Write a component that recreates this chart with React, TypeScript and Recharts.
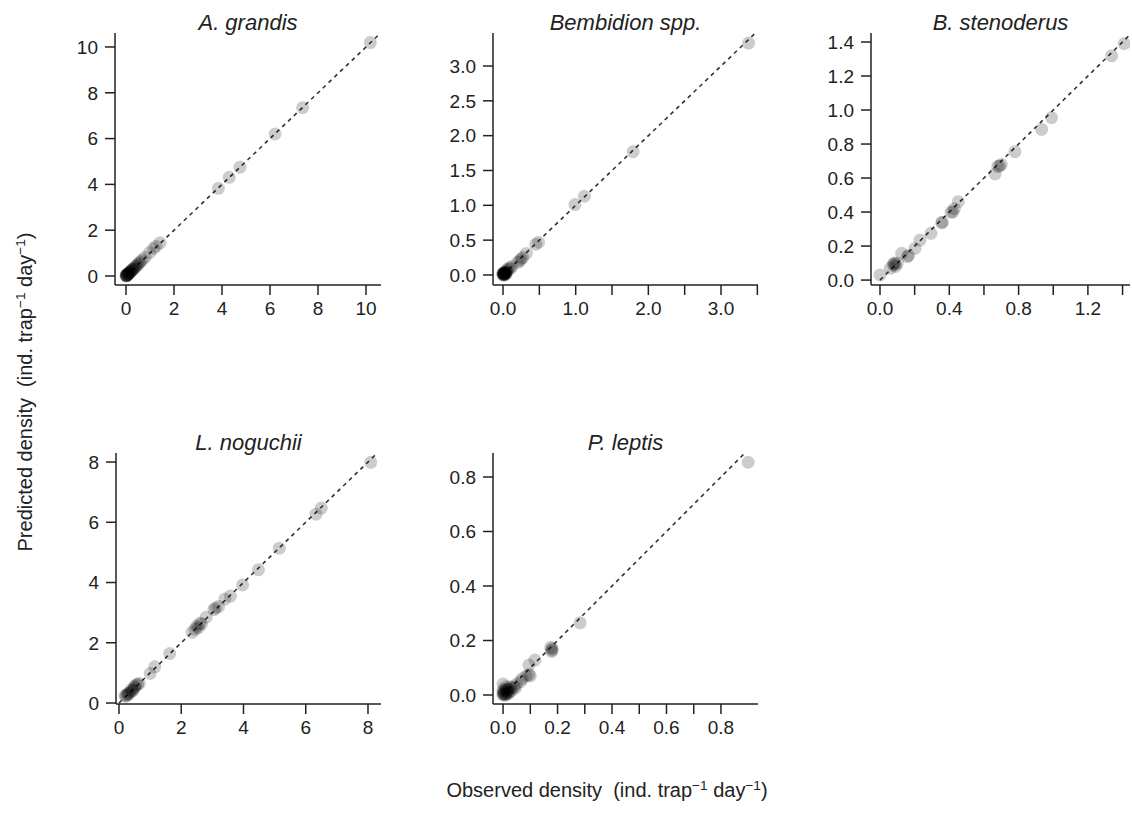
import { ScatterChart, Scatter, XAxis, YAxis, ReferenceLine } from 'recharts';

// observed vs predicted density, one pair of arrays per species
const grandisObs = [10.18, 7.36, 6.21, 4.75, 4.3, 3.85, 1.42, 1.25, 1.15, 0.98, 0.8, 0.68, 0.55, 0.45, 0.38, 0.3, 0.25, 0.2, 0.16, 0.12, 0.09, 0.06, 0.04, 0.02, 0.01, 0.03,
  0.05, 0.08, 0.1, 0.14, 0.18, 0.22, 0.28, 0.33, 0.4, 0.5, 0.6, 0.0, 0.02];
const grandisPred = [10.19, 7.35, 6.2, 4.75, 4.31, 3.83, 1.45, 1.3, 1.2, 1.02, 0.82, 0.7, 0.57, 0.47, 0.36, 0.3, 0.27, 0.2, 0.15, 0.13, 0.08, 0.07, 0.03, 0.02, 0.04, 0.01,
  0.05, 0.1, 0.09, 0.16, 0.17, 0.23, 0.26, 0.34, 0.42, 0.5, 0.62, 0.02, 0.0];

const bembidionObs = [3.38, 1.79, 1.12, 0.99, 0.49, 0.45, 0.32, 0.27, 0.23, 0.12, 0.08, 0.05, 0.03, 0.02, 0.01, 0.0, 0.02, 0.0, 0.01, 0.03, 0.04,
  0.0, 0.01, 0.02, 0.01, 0.03, 0.0, 0.02, 0.04, 0.05, 0.06, 0.1, 0.25, 0.2];
const bembidionPred = [3.33, 1.77, 1.13, 1.01, 0.47, 0.44, 0.31, 0.25, 0.2, 0.12, 0.1, 0.06, 0.02, 0.03, 0.01, 0.0, 0.0, 0.02, 0.02, 0.04, 0.01,
  0.01, 0.0, 0.01, 0.03, 0.03, 0.03, 0.02, 0.03, 0.04, 0.08, 0.09, 0.23, 0.18];

const stenoderusObs = [1.41, 1.337, 0.99, 0.933, 0.779, 0.69, 0.7, 0.664, 0.452, 0.41, 0.43, 0.356, 0.294, 0.231, 0.202, 0.158, 0.165, 0.125, 0.077, 0.085, 0.06, 0.1, 0.0,
  0.08, 0.09, 0.36, 0.42, 0.68];
const stenoderusPred = [1.39, 1.319, 0.955, 0.886, 0.755, 0.67, 0.68, 0.624, 0.461, 0.4, 0.42, 0.337, 0.275, 0.235, 0.186, 0.137, 0.145, 0.157, 0.088, 0.095, 0.07, 0.1, 0.03,
  0.1, 0.08, 0.34, 0.4, 0.67];

const noguchiiObs = [8.09, 6.5, 6.33, 5.15, 4.48, 3.97, 3.58, 3.4, 3.2, 3.05, 2.8, 2.65, 2.55, 2.45, 2.35, 1.63, 1.15, 1.0, 0.65, 0.55, 0.5, 0.42, 0.35, 0.3, 0.25, 0.2,
  0.3, 0.4, 0.45, 0.6, 0.22, 0.5, 2.5, 3.1, 2.6];
const noguchiiPred = [7.99, 6.47, 6.27, 5.14, 4.42, 3.92, 3.55, 3.45, 3.2, 3.1, 2.85, 2.62, 2.5, 2.45, 2.35, 1.64, 1.2, 0.98, 0.65, 0.6, 0.5, 0.4, 0.35, 0.32, 0.27, 0.25,
  0.28, 0.45, 0.42, 0.62, 0.22, 0.55, 2.55, 3.15, 2.65];

const leptisObs = [0.9, 0.283, 0.18, 0.178, 0.175, 0.117, 0.095, 0.095, 0.085, 0.065, 0.05, 0.04, 0.03, 0.02, 0.015, 0.01, 0.005, 0.0, 0.0, 0.0, 0.01, 0.02,
  0.0, 0.005, 0.01, 0.01, 0.02, 0.015, 0.03, 0.0, 0.005, 0.025, 0.045, 0.07, 0.1, 0.18];
const leptisPred = [0.854, 0.265, 0.17, 0.16, 0.175, 0.128, 0.11, 0.075, 0.07, 0.05, 0.04, 0.03, 0.025, 0.02, 0.01, 0.005, 0.0, 0.0, 0.04, 0.02, 0.03, 0.005,
  0.01, 0.005, 0.0, 0.02, 0.01, 0.02, 0.015, 0.005, 0.015, 0.03, 0.025, 0.06, 0.07, 0.165];

// ticks (labels = which ticks get a number)
const grandisTicks = [0, 2, 4, 6, 8, 10];
const bembidionXTicks = [0, 0.5, 1, 1.5, 2, 2.5, 3, 3.5];
const bembidionXLabels = [0, 1, 2, 3];
const bembidionYTicks = [0, 0.5, 1, 1.5, 2, 2.5, 3];
const stenoderusTicks = [0, 0.2, 0.4, 0.6, 0.8, 1, 1.2, 1.4];
const stenoderusXLabels = [0, 0.4, 0.8, 1.2];
const noguchiiTicks = [0, 2, 4, 6, 8];
const leptisXTicks = [0, 0.1, 0.2, 0.3, 0.4, 0.5, 0.6, 0.7, 0.8];
const leptisYTicks = [0, 0.2, 0.4, 0.6, 0.8];

const FONT = '"Liberation Sans", Arial, Helvetica, sans-serif';
const INK = '#222';
const Y_W = 70;
const TOP = 10;
const X_H = 50;

const panels = [
  { title: 'A. grandis', obs: grandisObs, pred: grandisPred, left: 115, top: 33, w: 266, h: 252,
    xDomain: [-0.458, 10.625], yDomain: [-0.393, 10.61], xTicks: grandisTicks, xLabels: grandisTicks, yTicks: grandisTicks, dec: 0 },
  { title: 'Bembidion spp.', obs: bembidionObs, pred: bembidionPred, left: 493, top: 33, w: 265, h: 252,
    xDomain: [-0.138, 3.509], yDomain: [-0.144, 3.474], xTicks: bembidionXTicks, xLabels: bembidionXLabels, yTicks: bembidionYTicks, dec: 1 },
  { title: 'B. stenoderus', obs: stenoderusObs, pred: stenoderusPred, left: 871, top: 33, w: 259, h: 252,
    xDomain: [-0.052, 1.443], yDomain: [-0.029, 1.453], xTicks: stenoderusTicks, xLabels: stenoderusXLabels, yTicks: stenoderusTicks, dec: 1 },
  { title: 'L. noguchii', obs: noguchiiObs, pred: noguchiiPred, left: 116, top: 453, w: 265, h: 251,
    xDomain: [-0.096, 8.418], yDomain: [-0.033, 8.3], xTicks: noguchiiTicks, xLabels: noguchiiTicks, yTicks: noguchiiTicks, dec: 0 },
  { title: 'P. leptis', obs: leptisObs, pred: leptisPred, left: 493, top: 453, w: 265, h: 251,
    xDomain: [-0.037, 0.936], yDomain: [-0.033, 0.888], xTicks: leptisXTicks, xLabels: leptisYTicks, yTicks: leptisYTicks, dec: 1 },
];

const fmt = (labels: number[], dec: number) => (v: number) =>
  labels.some(l => Math.abs(l - v) < 1e-9) ? v.toFixed(dec) : '';

const tickStyle = { fontSize: 19, fill: INK, fontFamily: FONT };

function Dot(props: any) {
  return <circle cx={props.cx} cy={props.cy} r={6.5} fill="#000" fillOpacity={0.2} />;
}

function Panel({ p }: { p: typeof panels[number] }) {
  const data = p.obs.map((x, i) => ({ x, y: p.pred[i] }));
  const hi = Math.max(p.xDomain[1], p.yDomain[1]);
  return (
    <>
      <div style={{
        position: 'absolute', left: p.left, top: p.top - 21, width: p.w, textAlign: 'center',
        fontFamily: FONT, fontStyle: 'italic', fontSize: 22, lineHeight: '22px', color: INK,
      }}>{p.title}</div>
      <div style={{ position: 'absolute', left: p.left - Y_W, top: p.top - TOP }}>
        <ScatterChart width={Y_W + p.w + 10} height={TOP + p.h + X_H} margin={{ top: TOP, right: 10, bottom: 0, left: 0 }}>
          <XAxis type="number" dataKey="x" domain={p.xDomain} allowDataOverflow ticks={p.xTicks} interval={0}
            tickFormatter={fmt(p.xLabels, p.dec)} height={X_H} tick={tickStyle} tickSize={10} tickMargin={7}
            axisLine={{ stroke: INK, strokeWidth: 1.5 }} tickLine={{ stroke: INK, strokeWidth: 1.5 }} />
          <YAxis type="number" dataKey="y" domain={p.yDomain} allowDataOverflow ticks={p.yTicks} interval={0}
            tickFormatter={fmt(p.yTicks, p.dec)} width={Y_W} tick={tickStyle} tickSize={10} tickMargin={7}
            axisLine={{ stroke: INK, strokeWidth: 1.5 }} tickLine={{ stroke: INK, strokeWidth: 1.5 }} />
          <Scatter data={data} shape={<Dot />} isAnimationActive={false} />
          <ReferenceLine segment={[{ x: 0, y: 0 }, { x: hi, y: hi }]} stroke="#333" strokeWidth={1.6}
            strokeDasharray="4 4" ifOverflow="hidden" />
        </ScatterChart>
      </div>
    </>
  );
}

const sup = (s: string) => <span style={{ fontSize: '0.68em', position: 'relative', top: '-0.55em' }}>{s}</span>;

export default function App() {
  return (
    <div style={{ position: 'absolute', left: 0, top: 0, width: 1132, height: 818, overflow: 'hidden', background: '#fff' }}>
      {panels.map(p => <Panel key={p.title} p={p} />)}
      <div style={{
        position: 'absolute', left: 25, top: 392, transform: 'translate(-50%, -50%) rotate(-90deg)',
        whiteSpace: 'pre', fontFamily: FONT, fontSize: 20, color: INK,
      }}>
        Predicted density  (ind. trap{sup('\u22121')} day{sup('\u22121')})
      </div>
      <div style={{
        position: 'absolute', left: 607, top: 790, transform: 'translate(-50%, -50%)',
        whiteSpace: 'pre', fontFamily: FONT, fontSize: 20, color: INK,
      }}>
        Observed density  (ind. trap{sup('\u22121')} day{sup('\u22121')})
      </div>
    </div>
  );
}
